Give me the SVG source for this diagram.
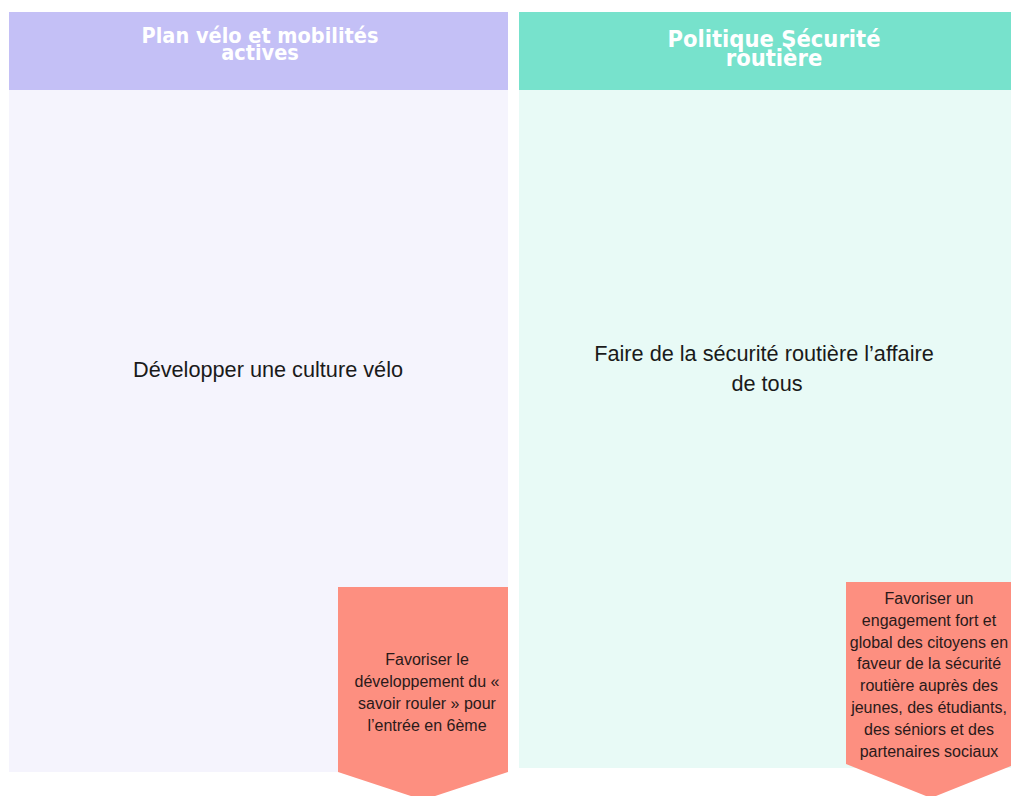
<svg xmlns="http://www.w3.org/2000/svg" width="1011" height="796" viewBox="0 0 1011 796">
<style>
.hd{font-family:"DejaVu Sans Condensed","DejaVu Sans",sans-serif;font-stretch:condensed;font-weight:700;fill:#ffffff;text-anchor:middle}
.bd{font-family:"Liberation Sans",Arial,sans-serif;font-size:21.7px;fill:#1a1a1a;text-anchor:middle}
.pt{font-family:"Liberation Sans",Arial,sans-serif;font-size:16px;fill:#2a1a1a;text-anchor:middle}
.arrow{fill:#fd8f80}
</style>
<rect width="1011" height="796" fill="#ffffff"/>
<g id="col-velo">
<rect x="9" y="90" width="499" height="682" fill="#f5f4fd"/>
<rect x="9" y="12" width="499" height="78" fill="#c4c0f6"/>
<text class="hd" font-size="21.5" x="260" y="43">Plan vélo et mobilités<tspan x="260" y="60">actives</tspan></text>
<text class="bd" x="268" y="377">Développer une culture vélo</text>
</g>
<g id="col-securite">
<rect x="519" y="90" width="492" height="678" fill="#e8faf6"/>
<rect x="519" y="12" width="492" height="78" fill="#77e2cc"/>
<text class="hd" font-size="23.5" x="774" y="47">Politique Sécurité<tspan x="774" y="66">routière</tspan></text>
<text class="bd" x="764" y="361">Faire de la sécurité routière l’affaire</text>
<text class="bd" x="767" y="391">de tous</text>
</g>
<g id="arrow-velo">
<polygon class="arrow" points="338,587 508,587 508,772 423,800 338,772"/>
<text class="pt" x="427" y="665">Favoriser le</text>
<text class="pt" x="427" y="687">développement du «</text>
<text class="pt" x="427" y="709">savoir rouler » pour</text>
<text class="pt" x="427" y="731">l’entrée en 6ème</text>
</g>
<g id="arrow-securite">
<polygon class="arrow" points="846,582 1016,582 1016,764 931,798 846,764"/>
<text class="pt" x="929" y="604">Favoriser un</text>
<text class="pt" x="929" y="626">engagement fort et</text>
<text class="pt" x="929" y="647.5">global des citoyens en</text>
<text class="pt" x="929" y="669">faveur de la sécurité</text>
<text class="pt" x="929" y="691">routière auprès des</text>
<text class="pt" x="929" y="713">jeunes, des étudiants,</text>
<text class="pt" x="929" y="735">des séniors et des</text>
<text class="pt" x="929" y="757">partenaires sociaux</text>
</g>
<g id="connectors"></g>
</svg>
